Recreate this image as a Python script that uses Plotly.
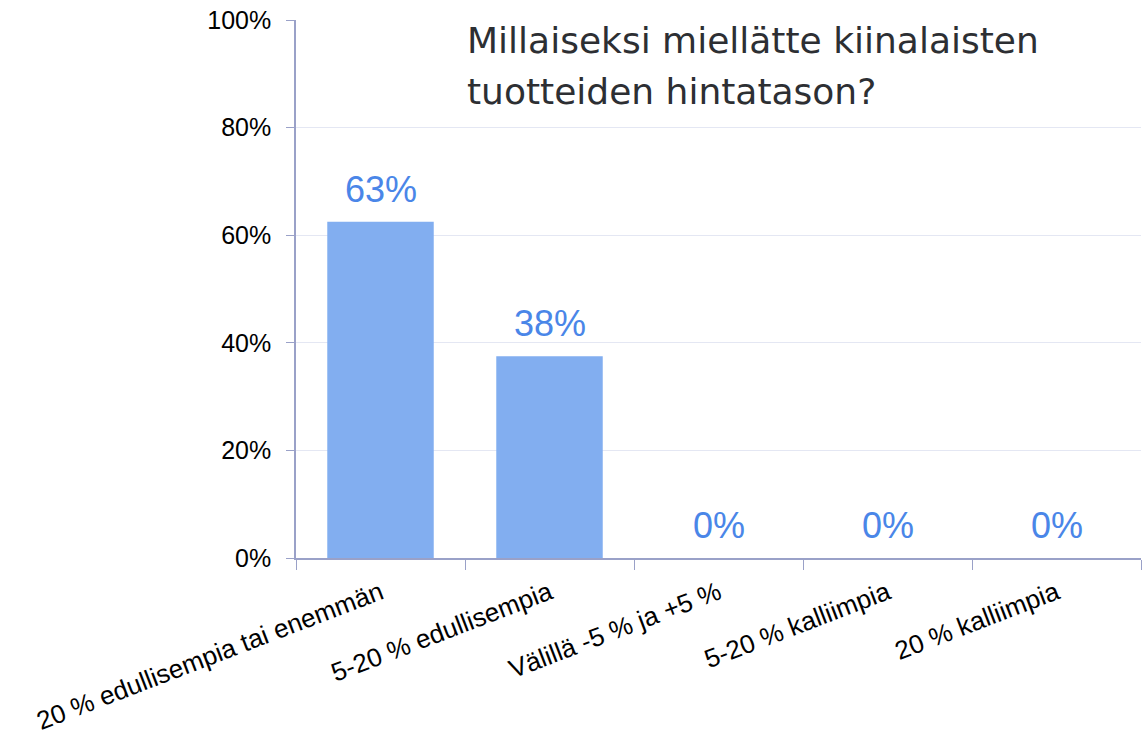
import plotly.graph_objects as go

categories = ["20 % edullisempia tai enemmän", "5-20 % edullisempia",
              "Välillä -5 % ja +5 %", "5-20 % kalliimpia", "20 % kalliimpia"]
values = [62.5, 37.5, 0, 0, 0]
title_lines = ["Millaiseksi miellätte kiinalaisten", "tuotteiden hintatason?"]

labels = [f"{int(v + 0.5)}%" for v in values]

W, H = 1143, 742
L, R, T, B = 296, 2, 20, 184
pw, ph = W - L - R, H - T - B

fig = go.Figure(go.Bar(
    x=categories, y=values,
    marker=dict(color="#82AEF0", line=dict(width=0)),
    width=0.63, cliponaxis=False,
))

annos = []
for c, v, t in zip(categories, values, labels):
    annos.append(dict(
        x=c, y=v, xref="x", yref="y", text=t, showarrow=False,
        xanchor="center", yanchor="bottom", yshift=10,
        font=dict(size=36, color="#4A86E8", family="Liberation Sans, Arial"),
    ))
for i, line in enumerate(title_lines):
    baseline_y = 53 + i * 51  # page y of baseline in reference
    annos.append(dict(
        text=line, x=(465 - L) / pw, y=1 - (baseline_y - T + 10) / ph,
        xref="paper", yref="paper", xanchor="left", yanchor="bottom",
        align="left", showarrow=False,
        font=dict(family="DejaVu Sans", size=36, color="#2d2f33"),
    ))

fig.update_layout(
    width=W, height=H,
    margin=dict(l=L, r=R, t=T, b=B, pad=0, autoexpand=False),
    paper_bgcolor="white", plot_bgcolor="white",
    font=dict(family="Liberation Sans, Arial", size=26, color="#000"),
    showlegend=False,
    annotations=annos,
)

fig.update_yaxes(
    range=[0, 100], dtick=20, ticksuffix="%",
    showgrid=True, gridcolor="#E4E7F3", gridwidth=1,
    showline=True, linecolor="#9AA1C8", linewidth=1.5,
    ticks="outside", ticklen=8, tickcolor="#9AA1C8",
    zeroline=False, tickfont=dict(size=25), ticklabelstandoff=10,
    ticklabeloverflow="allow", automargin=False,
)
fig.update_xaxes(
    showline=True, linecolor="#9AA1C8", linewidth=1.5,
    ticks="outside", ticklen=10, tickcolor="#9AA1C8", tickson="boundaries",
    tickangle=-21, tickfont=dict(size=26), showgrid=False,
    ticklabelstandoff=8, automargin=False,
)

fig.write_html(
    "out.html",
    config={"displayModeBar": False},
    post_script="document.body.style.margin='0';document.body.style.overflow='hidden';",
)
